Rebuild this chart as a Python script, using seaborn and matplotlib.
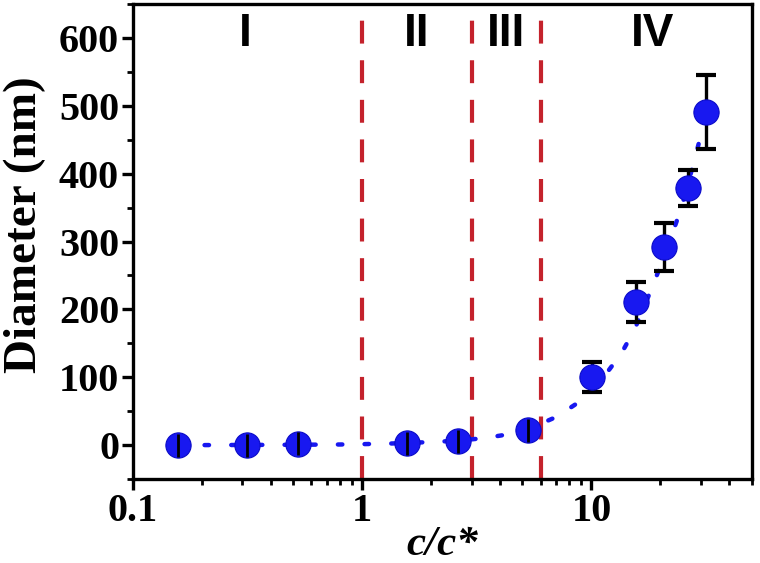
import numpy as np
import pandas as pd
import matplotlib
matplotlib.use("Agg")
import matplotlib.pyplot as plt
import seaborn as sns
from matplotlib.ticker import LogLocator, FixedLocator, MultipleLocator, FuncFormatter

# ---- data ----
conc = [0.157, 0.314, 0.524, 1.57, 2.61, 5.29, 10.1, 15.7, 20.8, 26.3, 31.6]
diam = [0, 0, 2, 3, 6, 22, 100, 211, 292, 379, 491]
err = [17, 17, 17, 17, 17, 17, 22, 30, 35, 26, 55]

fit_x = [0.157, 0.3, 0.5, 0.8, 1.0, 1.35, 2.14, 2.8, 3.47, 4.40, 5.5, 7.02, 8.87,
         11.0, 13.5, 15.4, 18.8, 22.6, 24.6, 28.1, 30.1, 31.6]
fit_y = [0, 0.3, 0.6, 1.0, 1.5, 2.5, 5, 7.5, 10.8, 16.3, 26, 41.5, 64,
         95, 135, 170, 240, 313, 348, 419, 458, 488]

boundaries = [1, 3, 6]
regions = ["I", "II", "III", "IV"]
region_x = [0.308, 1.72, 4.24, 18.5]
region_y = 606

df = pd.DataFrame({"c": conc, "d": diam, "e": err})
fit = pd.DataFrame({"c": fit_x, "d": fit_y})

sns.set_theme(style="ticks")
plt.rcParams["font.family"] = ["Liberation Serif", "DejaVu Serif"]
plt.rcParams["text.color"] = "black"
plt.rcParams["axes.labelcolor"] = "black"

fig = plt.figure(figsize=(7.6, 5.63), dpi=100)
ax = fig.add_axes([0.175, 0.149, 0.814, 0.844])

blue = "#1818f0"
red = "#c4222c"

# region boundaries
for b in boundaries:
    ax.axvline(b, color=red, lw=3.0, dashes=(5.5, 4.0), zorder=1)

# fit line (dotted)
sns.lineplot(data=fit, x="c", y="d", ax=ax, color=blue, lw=3.2,
             dashes=False, zorder=2, sort=False)
ax.lines[-1].set_dashes((1.0, 5.0))
ax.lines[-1].set_dash_capstyle("round")

# error bars: large points behind marker with caps
big = df[df["c"] > 8]
small = df[df["c"] <= 8]
ax.errorbar(big["c"], big["d"], yerr=big["e"], fmt="none", ecolor="black",
            elinewidth=2.4, capsize=7, capthick=3, zorder=3)

sns.scatterplot(data=df, x="c", y="d", ax=ax, color=blue, s=330,
                edgecolor="#0a0ac8", linewidth=0.8, zorder=4)

ax.errorbar(small["c"], small["d"], yerr=small["e"], fmt="none", ecolor="black",
            elinewidth=2.0, capsize=0, zorder=5)

# axes
ax.set_xscale("log")
ax.set_xlim(0.1, 50)
ax.set_ylim(-50, 650)
ax.yaxis.set_major_locator(FixedLocator([0, 100, 200, 300, 400, 500, 600]))
ax.yaxis.set_minor_locator(MultipleLocator(50))
ax.xaxis.set_major_locator(FixedLocator([0.1, 1, 10]))
ax.xaxis.set_minor_locator(LogLocator(base=10, subs=np.arange(2, 10)))
ax.xaxis.set_minor_formatter(FuncFormatter(lambda v, p: ""))
ax.xaxis.set_major_formatter(FuncFormatter(lambda v, p: "%g" % v))

for s in ax.spines.values():
    s.set_linewidth(2.4)
    s.set_color("black")
    s.set_visible(True)

ax.tick_params(axis="both", which="major", direction="out", length=8, width=2.4,
               labelsize=29, pad=2, colors="black")
ax.tick_params(axis="both", which="minor", direction="out", length=4.5, width=2.0,
               colors="black")
for lab in ax.get_xticklabels() + ax.get_yticklabels():
    lab.set_fontweight("bold")

ax.set_xlabel("c/c*", fontsize=31, fontweight="bold", fontstyle="italic", color="black")
ax.xaxis.set_label_coords(0.5, -0.098)
ax.set_ylabel("Diameter (nm)", fontsize=34, fontweight="bold", color="black")
ax.yaxis.set_label_coords(-0.14, 0.535)

for t, xx in zip(regions, region_x):
    ax.text(xx, region_y, t, ha="center", va="center", fontsize=33,
            fontweight="bold", family=["Liberation Sans", "DejaVu Sans"], color="black")

ax.set_facecolor("white")
fig.patch.set_facecolor("white")
fig.savefig("out.png", dpi=100)
